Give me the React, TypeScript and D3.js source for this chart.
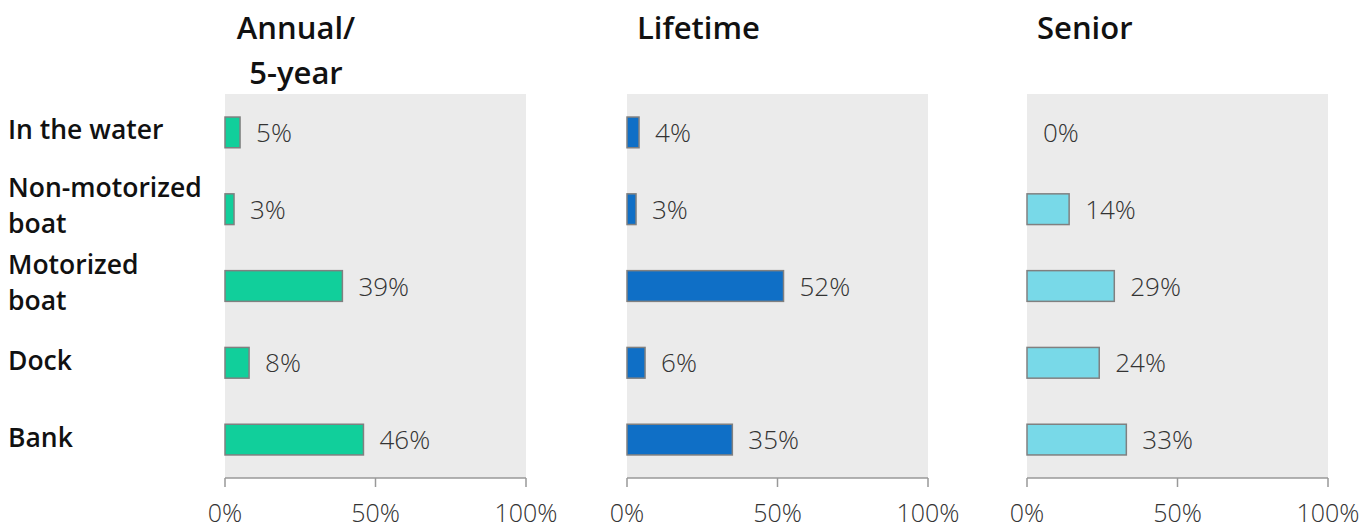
import React from "react";
import * as d3 from "d3";

const categories = ["In the water", "Non-motorized boat", "Motorized boat", "Dock", "Bank"];
const categoryLines = [["In the water"], ["Non-motorized", "boat"], ["Motorized", "boat"], ["Dock"], ["Bank"]];
const panelTitles = [["Annual/", "5-year"], ["Lifetime"], ["Senior"]];
const annualValues = [5, 3, 39, 8, 46];
const lifetimeValues = [4, 3, 52, 6, 35];
const seniorValues = [0, 14, 29, 24, 33];
const panelColors = ["#11CF9B", "#0F6FC6", "#78D9E8"];
const tickValues = [0, 50, 100];

const W = 1371;
const H = 531;
const panelLefts = [225, 627, 1027];
const panelWidth = 301;
const top = 94;
const bottom = 478;
const FONT = "'Open Sans', 'Noto Sans', sans-serif";

export default function App() {
  const series = [annualValues, lifetimeValues, seniorValues];
  const y = d3.scaleBand<string>().domain(categories).range([top, bottom]).paddingInner(0.6).paddingOuter(0.3);
  return (
    <svg width={W} height={H} style={{ position: "absolute", left: 0, top: 0, fontFamily: FONT }}>
      {categories.map((c, i) => {
        const lines = categoryLines[i];
        const cy = (y(c) as number) + y.bandwidth() / 2;
        const lh = 36;
        const first = lines.length === 1 ? cy + 7 : cy - 12;
        return (
          <text key={c} x={8} y={first} fontSize={26.5} fontWeight={600} fill="#111">
            {lines.map((l, j) => (
              <tspan key={j} x={8} y={first + j * lh}>{l}</tspan>
            ))}
          </text>
        );
      })}
      {series.map((vals, p) => {
        const x0 = panelLefts[p];
        const x = d3.scaleLinear().domain([0, 100]).range([x0, x0 + panelWidth]);
        const title = panelTitles[p];
        return (
          <g key={p}>
            {title.length > 1 ? (
              title.map((t, j) => (
                <text key={j} x={x0 + 71} y={39 + j * 45} fontSize={31} fontWeight={600} fill="#111" textAnchor="middle">{t}</text>
              ))
            ) : (
              <text x={x0 + 10} y={39} fontSize={31} fontWeight={600} fill="#111">{title[0]}</text>
            )}
            <rect x={x(0)} y={top} width={x(100) - x(0)} height={bottom - top} fill="#EBEBEB" />
            {vals.map((v, i) => {
              const by = y(categories[i]) as number;
              return (
                <g key={i}>
                  {v > 0 && (
                    <rect x={x(0)} y={by} width={x(v) - x(0)} height={y.bandwidth()} fill={panelColors[p]} stroke="#808080" strokeWidth={1.5} />
                  )}
                  <text x={x(v) + 16} y={by + y.bandwidth() / 2 + 9.5} fontSize={26} fontWeight={300} fill="#333">{v}%</text>
                </g>
              );
            })}
            <line x1={x(0)} x2={x(100)} y1={bottom} y2={bottom} stroke="#999" strokeWidth={1.5} />
            {tickValues.map((t) => (
              <g key={t}>
                <line x1={x(t)} x2={x(t)} y1={bottom} y2={bottom + 9} stroke="#999" strokeWidth={1.5} />
                <text x={x(t)} y={522} fontSize={25} fontWeight={300} fill="#333" textAnchor="middle">{t}%</text>
              </g>
            ))}
          </g>
        );
      })}
    </svg>
  );
}
